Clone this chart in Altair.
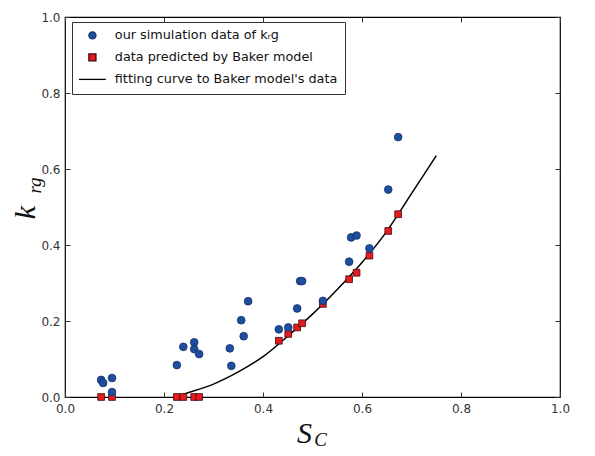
import altair as alt
import pandas as pd

# ---- data ----
sim_x = [0.073, 0.077, 0.095, 0.095, 0.226, 0.239, 0.261, 0.261, 0.271, 0.333, 0.336,
         0.356, 0.361, 0.370, 0.432, 0.451, 0.469, 0.475, 0.479, 0.521, 0.574, 0.578,
         0.589, 0.615, 0.653, 0.673]
sim_y = [0.045, 0.037, 0.050, 0.013, 0.084, 0.132, 0.144, 0.126, 0.113, 0.128, 0.082,
         0.202, 0.160, 0.252, 0.178, 0.183, 0.233, 0.305, 0.305, 0.253, 0.356, 0.420,
         0.425, 0.391, 0.546, 0.684]

baker_x = [0.073, 0.095, 0.226, 0.239, 0.261, 0.271, 0.432, 0.451, 0.469, 0.479,
           0.521, 0.574, 0.589, 0.615, 0.653, 0.673]
baker_y = [0.0, 0.0, 0.0, 0.0, 0.0, 0.0, 0.148, 0.166, 0.183, 0.194,
           0.245, 0.310, 0.327, 0.372, 0.437, 0.481]

curve_x = [0.22, 0.25, 0.30, 0.35, 0.40, 0.45, 0.50, 0.55, 0.60, 0.65, 0.70, 0.75]
curve_y = [0.0, 0.012, 0.034, 0.066, 0.106, 0.160, 0.218, 0.283, 0.354, 0.436, 0.535, 0.635]

series_names = ["our simulation data of kᵣg",
                "data predicted by Baker model",
                "fitting curve to Baker model's data"]
tick_values = [0.0, 0.2, 0.4, 0.6, 0.8, 1.0]

fill_colors = ["#1f4e9e", "#e8191f", "#000000"]
stroke_colors = ["#14316b", "#3a0a0a", "#000000"]
shapes = ["circle", "square", "M-3.8,0L3.8,0"]

sim_df = pd.DataFrame({"x": sim_x, "y": sim_y, "series": series_names[0]})
baker_df = pd.DataFrame({"x": baker_x, "y": baker_y, "series": series_names[1]})
curve_df = pd.DataFrame({"x": curve_x, "y": curve_y, "series": series_names[2]})

xscale = alt.Scale(domain=[0, 1], nice=False, zero=False, padding=0)
yscale = alt.Scale(domain=[0, 1], nice=False, zero=False, padding=0)

fill_enc = alt.Fill("series:N", scale=alt.Scale(domain=series_names, range=fill_colors),
                    legend=alt.Legend(title=None))
stroke_enc = alt.Stroke("series:N", scale=alt.Scale(domain=series_names, range=stroke_colors),
                        legend=alt.Legend(title=None))
shape_enc = alt.Shape("series:N", scale=alt.Scale(domain=series_names, range=shapes),
                      legend=alt.Legend(title=None))

label_common = dict(labelFont="DejaVu Sans", labelFontSize=12, labelColor="#333333",
                    labelFlush=False, labelOverlap=False, grid=False, domain=False)
title_common = dict(titleFont="Liberation Serif", titleFontStyle="italic",
                    titleFontWeight="normal", titleColor="#111111")

# main axes: labels + main title letters
x_main = alt.Axis(values=tick_values, format=".1f", ticks=False, labelPadding=6,
                  title="S", titleFontSize=30, titleX=239, titleY=45,
                  titleAlign="center", titleBaseline="alphabetic", **label_common, **title_common)
y_main = alt.Axis(values=tick_values, format=".1f", ticks=False, labelPadding=5,
                  title="k", titleFontSize=30, titleX=-31, titleY=195, titleAngle=270,
                  titleAlign="center", titleBaseline="alphabetic", **label_common, **title_common)

# inward ticks (negative offset) + subscripts
x_sub = alt.Axis(values=tick_values, labels=False, ticks=True, tickSize=5, tickColor="#333333",
                 tickWidth=1, offset=-5, orient="bottom", grid=False, domain=False,
                 title="C", titleFontSize=19, titleX=255, titleY=53,
                 titleAlign="center", titleBaseline="alphabetic", **title_common)
y_sub = alt.Axis(values=tick_values, labels=False, ticks=True, tickSize=5, tickColor="#333333",
                 tickWidth=1, offset=-5, orient="left", grid=False, domain=False,
                 title="rg", titleFontSize=19, titleX=-30, titleY=168, titleAngle=270,
                 titleAlign="center", titleBaseline="alphabetic", **title_common)

x_top = alt.Axis(values=tick_values, labels=False, ticks=True, tickSize=5, tickColor="#333333",
                 tickWidth=1, offset=-5, orient="top", grid=False, domain=False, title=None)
y_right = alt.Axis(values=tick_values, labels=False, ticks=True, tickSize=5, tickColor="#333333",
                   tickWidth=1, offset=-5, orient="right", grid=False, domain=False, title=None)

curve = alt.Chart(curve_df).mark_line(strokeWidth=1.5, interpolate="monotone").encode(
    x=alt.X("x:Q", scale=xscale, axis=x_top),
    y=alt.Y("y:Q", scale=yscale, axis=y_right),
    stroke=stroke_enc,
)

baker = alt.Chart(baker_df).mark_point(filled=True, opacity=1, size=45, strokeWidth=0.8).encode(
    x=alt.X("x:Q", scale=xscale, axis=x_sub),
    y=alt.Y("y:Q", scale=yscale, axis=y_sub),
    fill=fill_enc, stroke=stroke_enc, shape=shape_enc,
)

sim = alt.Chart(sim_df).mark_point(filled=True, opacity=1, size=60, strokeWidth=0.8).encode(
    x=alt.X("x:Q", scale=xscale, axis=x_main),
    y=alt.Y("y:Q", scale=yscale, axis=y_main),
    fill=fill_enc, stroke=stroke_enc, shape=shape_enc,
)

chart = alt.layer(curve, baker, sim).resolve_axis(
    x="independent", y="independent"
).properties(
    width=495, height=380,
    autosize=alt.AutoSizeParams(type="none"),
    padding={"left": 57, "top": 9, "right": 27, "bottom": 52},
).configure_view(
    stroke="#000000", strokeWidth=1.2
).configure_legend(
    orient="none", legendX=7, legendY=5,
    strokeColor="#333333", strokeWidth=1, fillColor="#ffffff",
    padding=7, cornerRadius=0,
    labelFont="DejaVu Sans", labelFontSize=12.8, labelColor="#111111",
    symbolSize=50, symbolStrokeWidth=1.3, symbolOffset=7, labelOffset=16, rowPadding=8,
    labelLimit=400,
)

chart.save("out.html", embed_options={"renderer": "svg", "actions": False})
